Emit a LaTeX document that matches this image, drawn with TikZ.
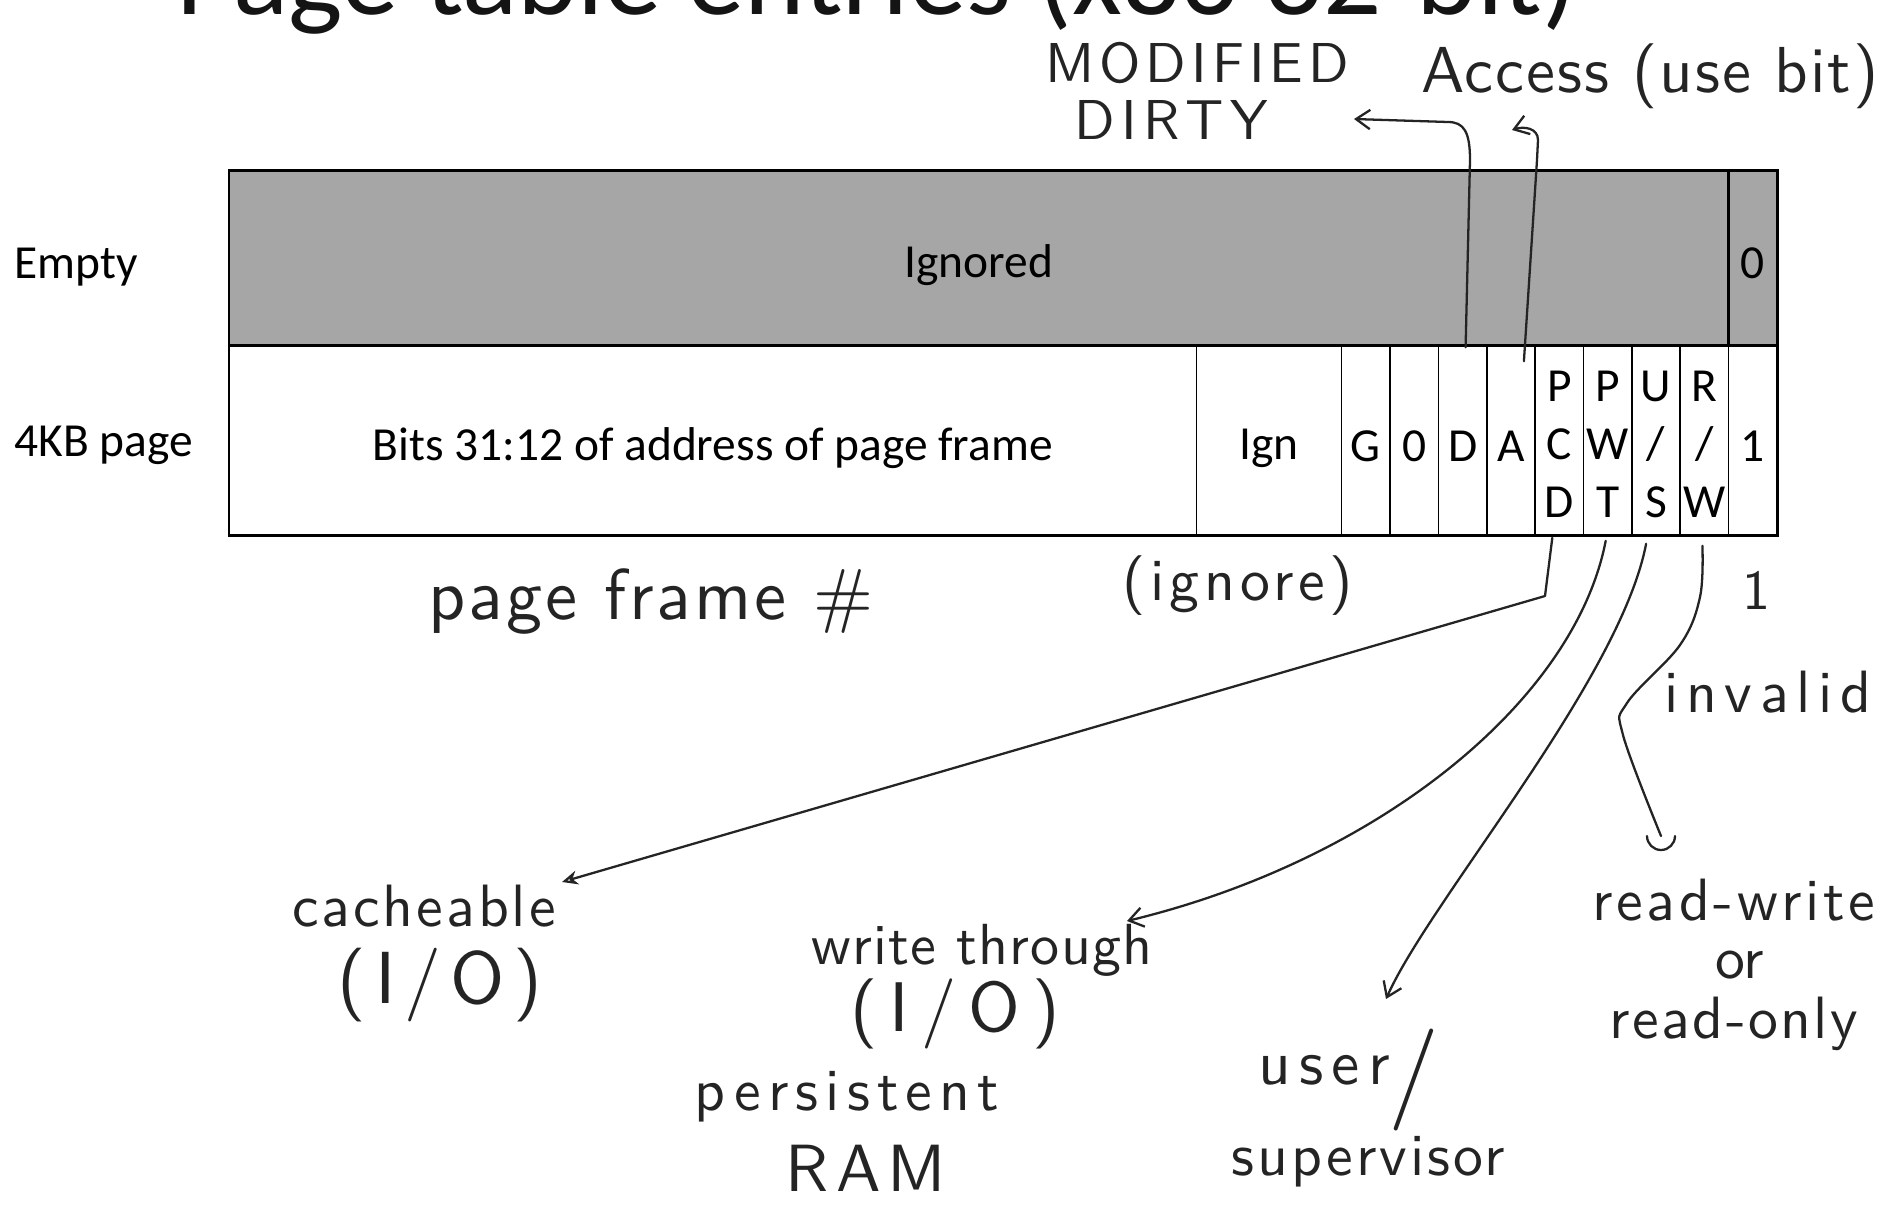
\documentclass[tikz,border=0pt]{standalone}
\usepackage{fontspec}
\setmainfont{Carlito}
\newfontfamily\handbase{lmsans10-regular.otf}
\usetikzlibrary{arrows.meta,calc}
\definecolor{rowgray}{RGB}{166,166,166}
\definecolor{ink}{RGB}{36,36,36}
\newcommand\handls[1]{\handbase\addfontfeatures{LetterSpace=#1}}
\begin{document}
\begin{tikzpicture}[x=0.02cm,y=-0.02cm,
  cell/.style={draw=black,line width=0.9pt,inner sep=0pt,minimum height=3.8cm,minimum width=0.9675cm},
  tcell/.style={cell,minimum height=3.5cm,fill=rowgray},
  ctext/.style={inner sep=0pt,font=\fontsize{27}{33}\selectfont,align=center},
  rowlab/.style={anchor=west,inner sep=0pt,font=\fontsize{27}{32}\selectfont},
  hw/.style n args={2}{font=\handls{#1}\fontsize{#2}{#2}\selectfont,text=ink,inner sep=0pt},
  pen/.style={draw=ink,line width=1.3pt,line cap=round,line join=round},
  barb/.style={-{Straight Barb[length=8pt,width=11pt]}},
]
\useasboundingbox (0,0) rectangle (1887,1211);
% title (cut off at the top of the page)
\node[anchor=base west,inner sep=0pt,text depth=0pt,font=\fontsize{65.5}{70}\selectfont,text={rgb,255:red,20;green,20;blue,20}] (title) at (176,14) {Page table entries (x86 32-bit)};
% row labels
\node[rowlab] (empty) at (14,267) {Empty};
\node[rowlab] (kb) at (14,445) {4KB page};
% top row cells
\node[tcell,minimum width=29.9925cm] (ignored) at (978.8,257.5) {};
\node[tcell] (zero) at (1752.8,257.5) {};
% bottom row cells
\node[cell,minimum width=19.35cm] (frame) at (712.75,440) {};
\node[cell,minimum width=2.9025cm] (ign) at (1269.06,440) {};
\node[cell] (g) at (1365.8,440) {};
\node[cell] (zb) at (1414.2,440) {};
\node[cell] (d) at (1462.6,440) {};
\node[cell] (a) at (1510.9,440) {};
\node[cell] (pcd) at (1559.3,440) {};
\node[cell] (pwt) at (1607.7,440) {};
\node[cell] (us) at (1656.1,440) {};
\node[cell] (rw) at (1704.4,440) {};
\node[cell] (one) at (1752.8,440) {};
\draw[line width=1.7pt] (229,170) rectangle (1777,535);
\draw[line width=1.7pt] (229,345) -- (1777,345);
\draw[line width=1.7pt] (1728.6,170) -- (1728.6,345);
% cell texts
\node[ctext] (t-ignored) at ($(ignored.center)+(0,8)$) {Ignored};
\node[ctext] (t-zero) at ($(zero.center)+(0,6)$) {0};
\node[ctext] (t-frame) at ($(frame.center)+(0,8)$) {Bits 31:12 of address of page frame};
\node[ctext] (t-ign) at ($(ign.center)+(0,8)$) {Ign};
\node[ctext] (t-g) at ($(g.center)+(0,6)$) {G};
\node[ctext] (t-zb) at ($(zb.center)+(0,6)$) {0};
\node[ctext] (t-d) at ($(d.center)+(0,6)$) {D};
\node[ctext] (t-a) at ($(a.center)+(0,6)$) {A};
\node[ctext] (t-pcd) at ($(pcd.center)+(0,4)$) {P\\C\\D};
\node[ctext] (t-pwt) at ($(pwt.center)+(0,4)$) {P\\W\\T};
\node[ctext] (t-us) at ($(us.center)+(0,4)$) {U\\/\\S};
\node[ctext] (t-rw) at ($(rw.center)+(0,4)$) {R\\/\\W};
\node[ctext] (t-one) at ($(one.center)+(0,6)$) {1};

% handwritten labels
\node[hw={9}{32}] (mod) at (1197,63) {MODIFIED};
\node[hw={11}{32}] (dirty) at (1171,120) {DIRTY};
\node[hw={3}{37}] (access) at (1650,76) {Access (use bit)};
\node[hw={4}{41}] (pfn) at (651,602) {page frame \#};
\node[hw={8}{34}] (ignore) at (1238,586) {(ignore)};
\node[hw={0}{32}] (onel) at (1757,590) {1};
\node[hw={13}{34}] (invalid) at (1768,692) {invalid};
\node[hw={5}{34}] (cache) at (424,906) {cacheable};
\node[hw={12}{42}] (cacheio) at (440,985) {(I/O)};
\node[hw={2}{33}] (wt) at (982,950) {write through};
\node[hw={17}{40}] (wtio) at (955,1014) {(I/O)};
\node[hw={12}{34}] (persist) at (847,1097) {persistent};
\node[hw={11}{38}] (ram) at (866,1168) {RAM};
\node[hw={13}{36}] (user) at (1324,1070) {user};
\node[hw={0}{58}] (slash) at (1414,1080) {/};
\node[hw={5}{34}] (super) at (1368,1162) {supervisor};
\node[hw={6}{34}] (rwl) at (1734,900) {read-write};
\node[hw={0}{34}] (orl) at (1740,965) {or};
\node[hw={4}{34}] (rol) at (1734,1024) {read-only};

% arrow end points
\coordinate (dirtytip) at (1354,119);
\coordinate (accesstip) at (1512,130);
\coordinate (cachetip) at (562,882);
\coordinate (wttip) at (1127,921);
\coordinate (ustip) at (1386,999);
\coordinate (rwtip) at (1661,836);

% connectors
\draw[pen,barb] ($(d.north)+(3,3)$) -- (1470,160) .. controls (1470,132) and (1464,122) .. (1448,122) -- (dirtytip);
\draw[pen,barb] ($(a.north)+(13,17)$) -- (1537,160) -- (1538,140) .. controls (1538,128) and (1524,126) .. (accesstip);
\draw[pen,-{Stealth[open,length=9pt,width=8pt]}] ($(pcd.south)+(-7,2)$) -- (1545,596) -- (cachetip);
\draw[pen,barb] ($(pwt.south)+(-2,5)$) .. controls (1575,700) and (1380,860) .. (wttip);
\draw[pen,barb] ($(us.south)+(-10,8)$) .. controls (1620,680) and (1430,900) .. (ustip);
\draw[pen] plot[smooth,tension=0.6] coordinates {($(rw.south)+(-2,10)$) (1700,597) (1680,645) (1627,703) (1623,735) (rwtip)};
\draw[pen] ($(rwtip)+(-14,0)$) arc[start angle=180,end angle=360,radius=0.28cm];
\end{tikzpicture}
\end{document}
